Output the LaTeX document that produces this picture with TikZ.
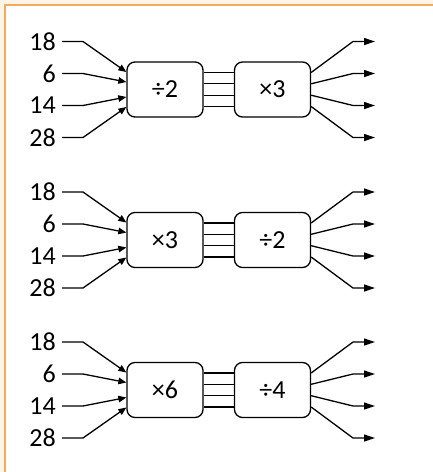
\documentclass[tikz,border=0pt]{standalone}
\usepackage{fontspec}
\setmainfont{Carlito}
\usetikzlibrary{arrows.meta,calc}
\definecolor{cream}{HTML}{FDF3E6}
\definecolor{frameor}{HTML}{F0AC60}
\begin{document}
\begin{tikzpicture}[x=1pt,y=-1pt,
 lab/.style={anchor=east,inner sep=0pt,font=\fontsize{26}{31}\selectfont},
 opbox/.style={draw,rounded corners=8pt,minimum width=76pt,minimum height=55pt,line width=1.3pt,font=\fontsize{26}{31}\selectfont,inner sep=0pt},
 wire/.style={line width=1.3pt},
 inarr/.style={wire,-{Triangle[length=8pt,width=6.5pt]}},
 outarr/.style={wire,-{Triangle[length=11pt,width=7pt]}}]
\useasboundingbox (0,0) rectangle (433,472);
\fill[cream] (0,0) rectangle (433,472);
\begin{scope}
\clip (0,0) rectangle (433,472);
\draw[frameor,line width=2pt,fill=white] (5,5) rectangle (445,485);
\end{scope}
\foreach \g/\cy/\opa/\opb in {1/89.5/÷2/×3, 2/240/×3/÷2, 3/390/×6/÷4} {
  \node[opbox] (a\g) at (165,\cy) {\opa};
  \node[opbox] (b\g) at (272.5,\cy) {\opb};
  \foreach \i/\v/\dy/\t/\s in {1/18/-48/-17.5/-17, 2/6/-16/-7.5/-5.7, 3/14/16/7.5/5.7, 4/28/48/17.5/17} {
    \node[lab] (l\g\i) at (56,\cy+\dy) {\v};
    \draw[inarr] ($(l\g\i.east)+(6,0)$) -- ++(21,0) -- ($(a\g.west)+(0,\t)$);
    \draw[wire] ($(a\g.east)+(0,\s)$) -- ($(b\g.west)+(0,\s)$);
    \coordinate (o\g\i) at (375,\cy+\dy);
    \draw[outarr] ($(b\g.east)+(0,\s)$) -- ($(o\g\i)+(-22,0)$) -- (o\g\i);
  }
}
\end{tikzpicture}
\end{document}
